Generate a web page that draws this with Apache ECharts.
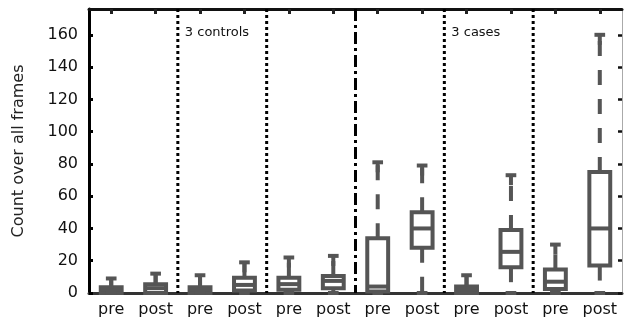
<!DOCTYPE html>
<html>
<head>
<meta charset="utf-8">
<script src="https://cdn.jsdelivr.net/npm/echarts@6/dist/echarts.min.js"></script>
<style>
  html, body { margin: 0; padding: 0; background: #fff; }
  #chart { width: 624px; height: 324px; }
</style>
</head>
<body>
<div id="chart"></div>
<script>
// box statistics per category
const categories = ['pre', 'post', 'pre', 'post', 'pre', 'post', 'pre', 'post', 'pre', 'post', 'pre', 'post'];
const minVals = [0, 0, 0, 0, 0, 0, 0, 0, 0, 0, 0, 0];
const q1Vals = [0, 0, 0, 1.5, 2, 3, 1, 28, 0, 16, 2.5, 17];
const medVals = [2, 3, 2, 5, 5.5, 7.5, 4, 40, 2, 25.5, 7, 40];
const q3Vals = [3.5, 5.5, 3.5, 9.5, 9.5, 10.5, 34, 50, 4, 39, 14.5, 75];
const maxVals = [9, 12, 11, 19, 22, 23, 81, 79, 11, 73, 30, 160];

// separators sit after these category indexes
const sepAfter = [1, 3, 5, 7, 9];
const sepKind = ['dot', 'dot', 'dashdot', 'dot', 'dot'];
const sepNotes = ['3 controls', '', '', '3 cases', ''];

const yTicks = { min: 0, max: 176, interval: 20 };

const boxColor = '#555';
const font = 'DejaVu Sans, sans-serif';

const boxData = categories.map((c, i) => [i, minVals[i], q1Vals[i], medVals[i], q3Vals[i], maxVals[i]]);
const sepData = sepAfter.map((s, i) => [s, i]);

function renderBox(params, api) {
  const idx = api.value(0);
  const band = api.size([1, 0])[0];
  const hw = band * 0.235;
  const cw = band * 0.12;
  const cx = api.coord([idx, 0])[0];
  const y = k => api.coord([idx, api.value(k)])[1];
  const yMin = y(1), yQ1 = y(2), yMed = y(3), yQ3 = y(4), yMax = y(5);
  const solid = { stroke: boxColor, lineWidth: 4, fill: null };
  const dashed = { stroke: boxColor, lineWidth: 4, lineDash: [15, 14], fill: null };
  const kids = [
    { type: 'rect', shape: { x: cx - hw, y: yQ3, width: hw * 2, height: yQ1 - yQ3 }, style: solid },
    { type: 'line', shape: { x1: cx - hw, y1: yMed, x2: cx + hw, y2: yMed }, style: solid },
    { type: 'line', shape: { x1: cx, y1: yQ3, x2: cx, y2: yMax }, style: dashed },
    { type: 'line', shape: { x1: cx - cw, y1: yMax, x2: cx + cw, y2: yMax }, style: solid },
    { type: 'line', shape: { x1: cx, y1: yMax, x2: cx, y2: yMax + 10 }, style: solid },
    { type: 'line', shape: { x1: cx, y1: yQ1, x2: cx, y2: yMin }, style: dashed },
    { type: 'line', shape: { x1: cx - cw, y1: yMin, x2: cx + cw, y2: yMin }, style: solid }
  ];
  return { type: 'group', children: kids };
}

function renderSep(params, api) {
  const s = api.value(0);
  const k = api.value(1);
  const cs = params.coordSys;
  const x = (api.coord([s, 0])[0] + api.coord([s + 1, 0])[0]) / 2;
  const dash = sepKind[k] === 'dashdot' ? [12, 4, 3, 4] : [3, 3];
  const kids = [
    { type: 'line', shape: { x1: x, y1: cs.y, x2: x, y2: cs.y + cs.height },
      style: { stroke: '#000', lineWidth: 3, lineDash: dash } }
  ];
  if (sepNotes[k]) {
    kids.push({ type: 'text', x: x + 7, y: cs.y + 24,
      style: { text: sepNotes[k], fill: '#111', font: '13px ' + font, verticalAlign: 'middle', align: 'left' } });
  }
  return { type: 'group', children: kids };
}

const chart = echarts.init(document.getElementById('chart'));
chart.setOption({
  animation: false,
  grid: { left: 89, right: 2, top: 9, bottom: 31 },
  xAxis: [
    {
      type: 'category', data: categories, position: 'bottom',
      axisLine: { onZero: false, lineStyle: { color: '#333', width: 3 } },
      axisTick: { show: false },
      axisLabel: { interval: 0, color: '#111', fontSize: 16, fontFamily: font, margin: 9 }
    },
    {
      type: 'category', data: categories, position: 'top',
      axisLine: { onZero: false, lineStyle: { color: '#111', width: 3 } },
      axisTick: { show: true, inside: true, alignWithLabel: true, interval: 0, length: 5, lineStyle: { color: '#222', width: 3 } },
      axisLabel: { show: false }
    }
  ],
  yAxis: [
    {
      type: 'value', min: yTicks.min, max: yTicks.max, interval: yTicks.interval,
      name: 'Count over all frames', nameLocation: 'middle', nameGap: 62,
      nameTextStyle: { color: '#222', fontSize: 16, fontFamily: font },
      axisLine: { show: true, onZero: false, lineStyle: { color: '#000', width: 3 } },
      axisTick: { show: true, inside: true, length: 4, lineStyle: { color: '#000', width: 3 } },
      axisLabel: { color: '#111', fontSize: 16, fontFamily: font, margin: 11, showMaxLabel: false },
      splitLine: { show: false }
    },
    {
      type: 'value', min: yTicks.min, max: yTicks.max, interval: yTicks.interval, position: 'right',
      axisLine: { show: true, onZero: false, lineStyle: { color: '#aaa', width: 1 } },
      axisTick: { show: true, inside: true, length: 4, lineStyle: { color: '#111', width: 2.5 } },
      axisLabel: { show: false },
      splitLine: { show: false }
    }
  ],
  series: [
    { type: 'custom', renderItem: renderBox, data: boxData, encode: { x: 0, y: [1, 2, 3, 4, 5] }, z: 5, clip: false },
    { type: 'custom', renderItem: renderSep, data: sepData, encode: { x: 0 }, z: 6, clip: false }
  ]
});
</script>
</body>
</html>
